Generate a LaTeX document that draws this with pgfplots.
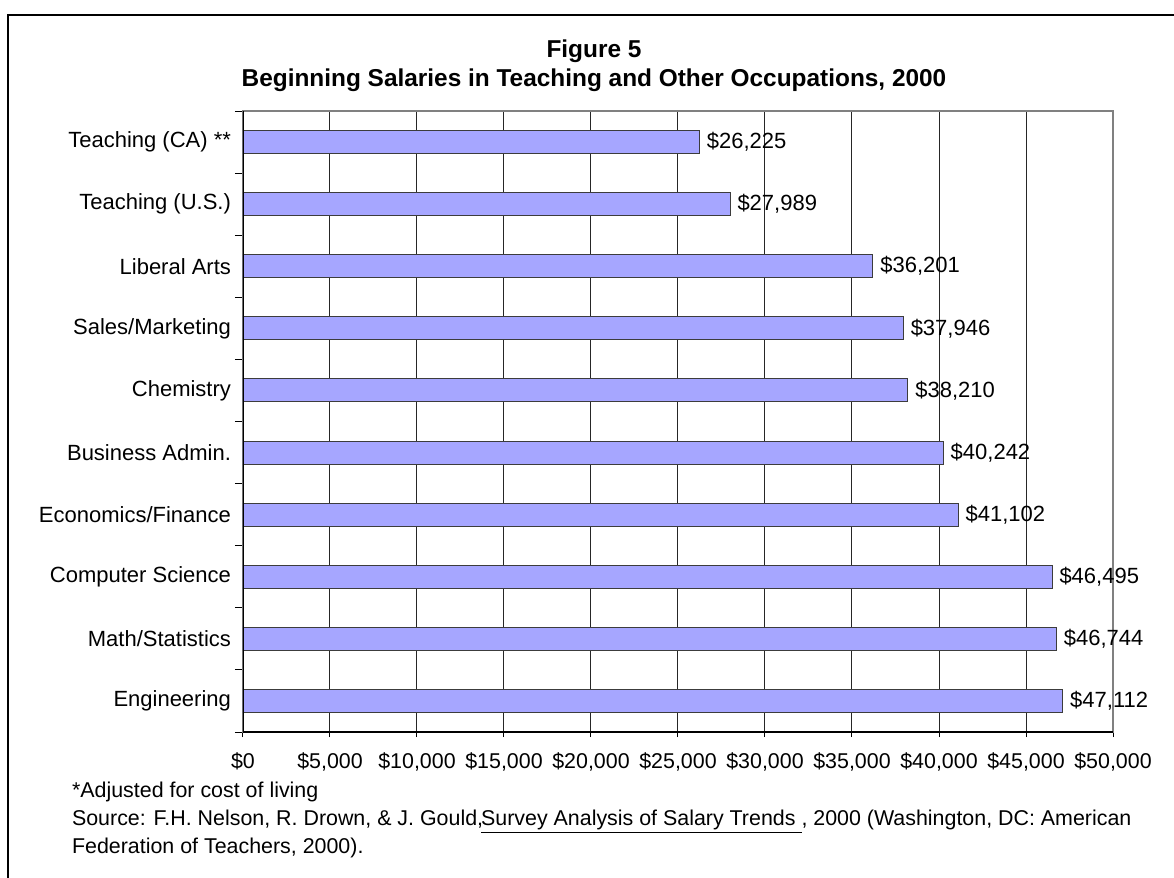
\documentclass[border=0pt]{standalone}
\usepackage{pgfplots}
\pgfplotsset{compat=1.18}
\usepackage{fontspec}
\setmainfont{Liberation Sans}
\definecolor{barfill}{RGB}{166,166,255}
\definecolor{baredge}{RGB}{60,60,60}
\pgfplotsset{/pgf/number format/assume math mode=true}
\newcommand{\chartfont}{\fontsize{10.7}{12}\selectfont}
\newcommand{\labelfont}{\fontsize{11}{12}\selectfont}
\begin{document}
\begin{tikzpicture}
\path[use as bounding box] (0,0) rectangle (587pt,-439pt);
\draw[line width=1pt] (3.75pt,-445pt) -- (3.75pt,-7.25pt) -- (595pt,-7.25pt);
\node[anchor=base, font=\bfseries\fontsize{12.2}{14}\selectfont] at (297pt,-28.5pt) {Figure 5};
\node[anchor=base, font=\bfseries\fontsize{12.2}{14}\selectfont] at (297pt,-43pt) {Beginning Salaries in Teaching and Other Occupations, 2000};
\begin{axis}[
  at={(121.5pt,-366pt)}, anchor=south west,
  scale only axis, width=435pt, height=310.5pt,
  xbar, bar width=11.5pt,
  xmin=0, xmax=50000, ymin=-0.5, ymax=9.5, y dir=reverse,
  scaled x ticks=false,
  xtick={0,5000,...,50000},
  xticklabel={\$\pgfmathprintnumber[fixed,1000 sep={,}]{\tick}},
  xticklabel style={font=\chartfont, yshift=-4.5pt},
  ytick={0,...,9},
  yticklabels={Teaching (CA) **,Teaching (U.S.),Liberal Arts\ ,Sales/Marketing,Chemistry,Business Admin.,Economics/Finance,Computer Science,Math/Statistics,Engineering},
  yticklabel style={font=\labelfont},
  minor ytick={-0.5,0.5,...,9.5},
  major y tick style={draw=none},
  minor y tick style={draw=black, line width=0.5pt},
  major x tick style={draw=black, line width=0.5pt},
  tick align=outside,
  major tick length=2.5pt, minor tick length=4pt,
  xtick pos=bottom, ytick pos=left,
  xmajorgrids, major grid style={black!85, line width=0.5pt},
  axis line style={draw=black!50, line width=0.6pt},
  point meta=x,
  nodes near coords={\$\pgfmathprintnumber[fixed,1000 sep={,}]{\pgfplotspointmeta}},
  nodes near coords style={anchor=west, inner sep=0pt, xshift=3.5pt, font=\labelfont, text=black},
]
\addplot[fill=barfill, draw=baredge, line width=0.5pt] coordinates {
  (26225,0) (27989,1) (36201,2) (37946,3) (38210,4)
  (40242,5) (41102,6) (46495,7) (46744,8) (47112,9)
};
\draw[black, line width=0.6pt] (axis description cs:0,1) -- (axis description cs:0,0) -- (axis description cs:1,0);
\end{axis}
\node[anchor=base west, font=\chartfont] at (32.5pt,-398.5pt) {*Adjusted for cost of living};
\node[anchor=base west, font=\chartfont] at (32.5pt,-412.5pt) {Source: F.H. Nelson, R. Drown, \& J. Gould,\kern-1pt\underline{Survey Analysis of Salary Trends\ }, 2000 (Washington, DC: American};
\node[anchor=base west, font=\chartfont] at (32.5pt,-426.5pt) {Federation of Teachers, 2000).};
\end{tikzpicture}
\end{document}
